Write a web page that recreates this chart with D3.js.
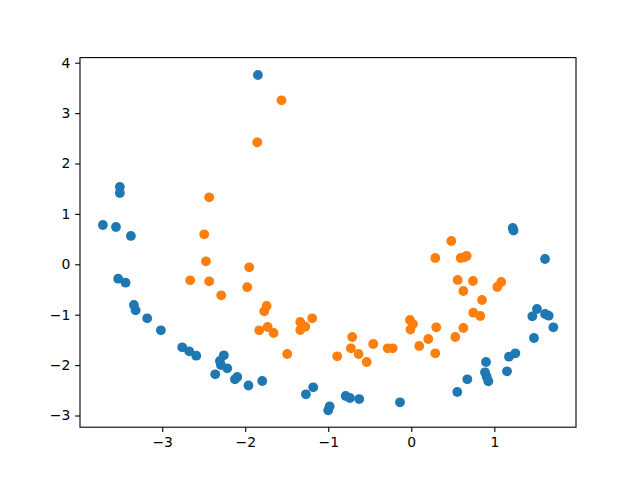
<!DOCTYPE html>
<html>
<head>
<meta charset="utf-8">
<script src="https://cdn.jsdelivr.net/npm/d3@7"></script>
<style>
  html, body { margin: 0; padding: 0; background: #fff; }
  svg { display: block; }
  .tick text { font-family: "DejaVu Sans", sans-serif; font-size: 13.9px; fill: #000; }
</style>
</head>
<body>
<svg id="chart" width="640" height="480"></svg>
<script>
// Series 0 (blue)
const blueX = [-1.847,-3.510,-3.510,-3.714,-3.557,-3.377,-3.530,-3.441,-3.341,-3.320,-3.181,-3.016,-2.759,-2.675,-2.590,-2.257,-2.305,-2.293,-2.217,-2.361,-2.124,-2.096,-1.961,-1.795,-1.269,-1.181,-1.000,-0.983,-0.790,-0.739,-0.627,-0.136,0.554,0.675,0.900,0.888,0.908,0.928,1.153,1.177,1.253,1.478,1.458,1.514,1.611,1.655,1.711,1.222,1.232,1.611];
const blueY = [3.756,1.534,1.415,0.780,0.740,0.562,-0.286,-0.365,-0.808,-0.913,-1.071,-1.310,-1.647,-1.726,-1.813,-1.806,-1.919,-1.998,-2.063,-2.183,-2.282,-2.236,-2.405,-2.315,-2.579,-2.440,-2.897,-2.817,-2.613,-2.653,-2.673,-2.738,-2.534,-2.282,-1.938,-2.143,-2.230,-2.321,-2.123,-1.833,-1.766,-1.462,-1.032,-0.887,-0.986,-1.020,-1.250,0.720,0.670,0.105];
// Series 1 (orange)
const orangeX = [-1.563,-1.855,-2.434,-2.494,-2.473,-2.663,-2.434,-2.289,-1.952,-1.976,-1.742,-1.771,-1.831,-1.730,-1.658,-1.494,-1.337,-1.277,-1.337,-1.193,-0.892,-0.711,-0.727,-0.634,-0.537,-0.458,-0.284,-0.224,-0.016,0.020,-0.010,0.482,0.289,0.595,0.639,0.667,0.559,0.743,0.627,1.084,1.036,0.852,0.747,0.831,0.301,0.205,0.096,0.289,0.530,0.627];
const orangeY = [3.254,2.421,1.329,0.595,0.060,-0.317,-0.337,-0.615,-0.060,-0.454,-0.827,-0.933,-1.310,-1.244,-1.363,-1.780,-1.145,-1.238,-1.304,-1.071,-1.825,-1.442,-1.667,-1.780,-1.938,-1.581,-1.667,-1.667,-1.105,-1.185,-1.294,0.462,0.125,0.125,0.139,0.165,-0.311,-0.331,-0.530,-0.351,-0.450,-0.708,-0.960,-1.026,-1.250,-1.482,-1.621,-1.766,-1.442,-1.264];
const xTicks = [-3,-2,-1,0,1];
const yTicks = [-3,-2,-1,0,1,2,3,4];

const svg = d3.select("#chart");
const L = 80, R = 576, T = 57.6, B = 427.2;
const x = d3.scaleLinear().domain([-3.99, 1.984]).range([L, R]);
const y = d3.scaleLinear().domain([-3.232, 4.101]).range([B, T]);

const fmt = d3.format("d");
const tk = 4.86, pad = 4.86;

const gx = svg.append("g").attr("transform", `translate(0,${B})`)
  .call(d3.axisBottom(x).tickValues(xTicks).tickFormat(fmt).tickSize(tk).tickPadding(pad).tickSizeOuter(0));
const gy = svg.append("g").attr("transform", `translate(${L},0)`)
  .call(d3.axisLeft(y).tickValues(yTicks).tickFormat(fmt).tickSize(tk).tickPadding(pad).tickSizeOuter(0));
[gx, gy].forEach(g => {
  g.select(".domain").remove();
  g.selectAll(".tick line").attr("stroke", "#000").attr("stroke-width", 1.1);
});

const blue = blueX.map((v, i) => [v, blueY[i]]);
const orange = orangeX.map((v, i) => [v, orangeY[i]]);
const r = 4.9;
svg.append("g").selectAll("circle").data(blue).join("circle")
  .attr("cx", d => x(d[0])).attr("cy", d => y(d[1])).attr("r", r).attr("fill", "#1f77b4");
svg.append("g").selectAll("circle").data(orange).join("circle")
  .attr("cx", d => x(d[0])).attr("cy", d => y(d[1])).attr("r", r).attr("fill", "#ff7f0e");

svg.append("rect").attr("x", L).attr("y", T).attr("width", R - L).attr("height", B - T)
  .attr("fill", "none").attr("stroke", "#000").attr("stroke-width", 1.1);
</script>
</body>
</html>
